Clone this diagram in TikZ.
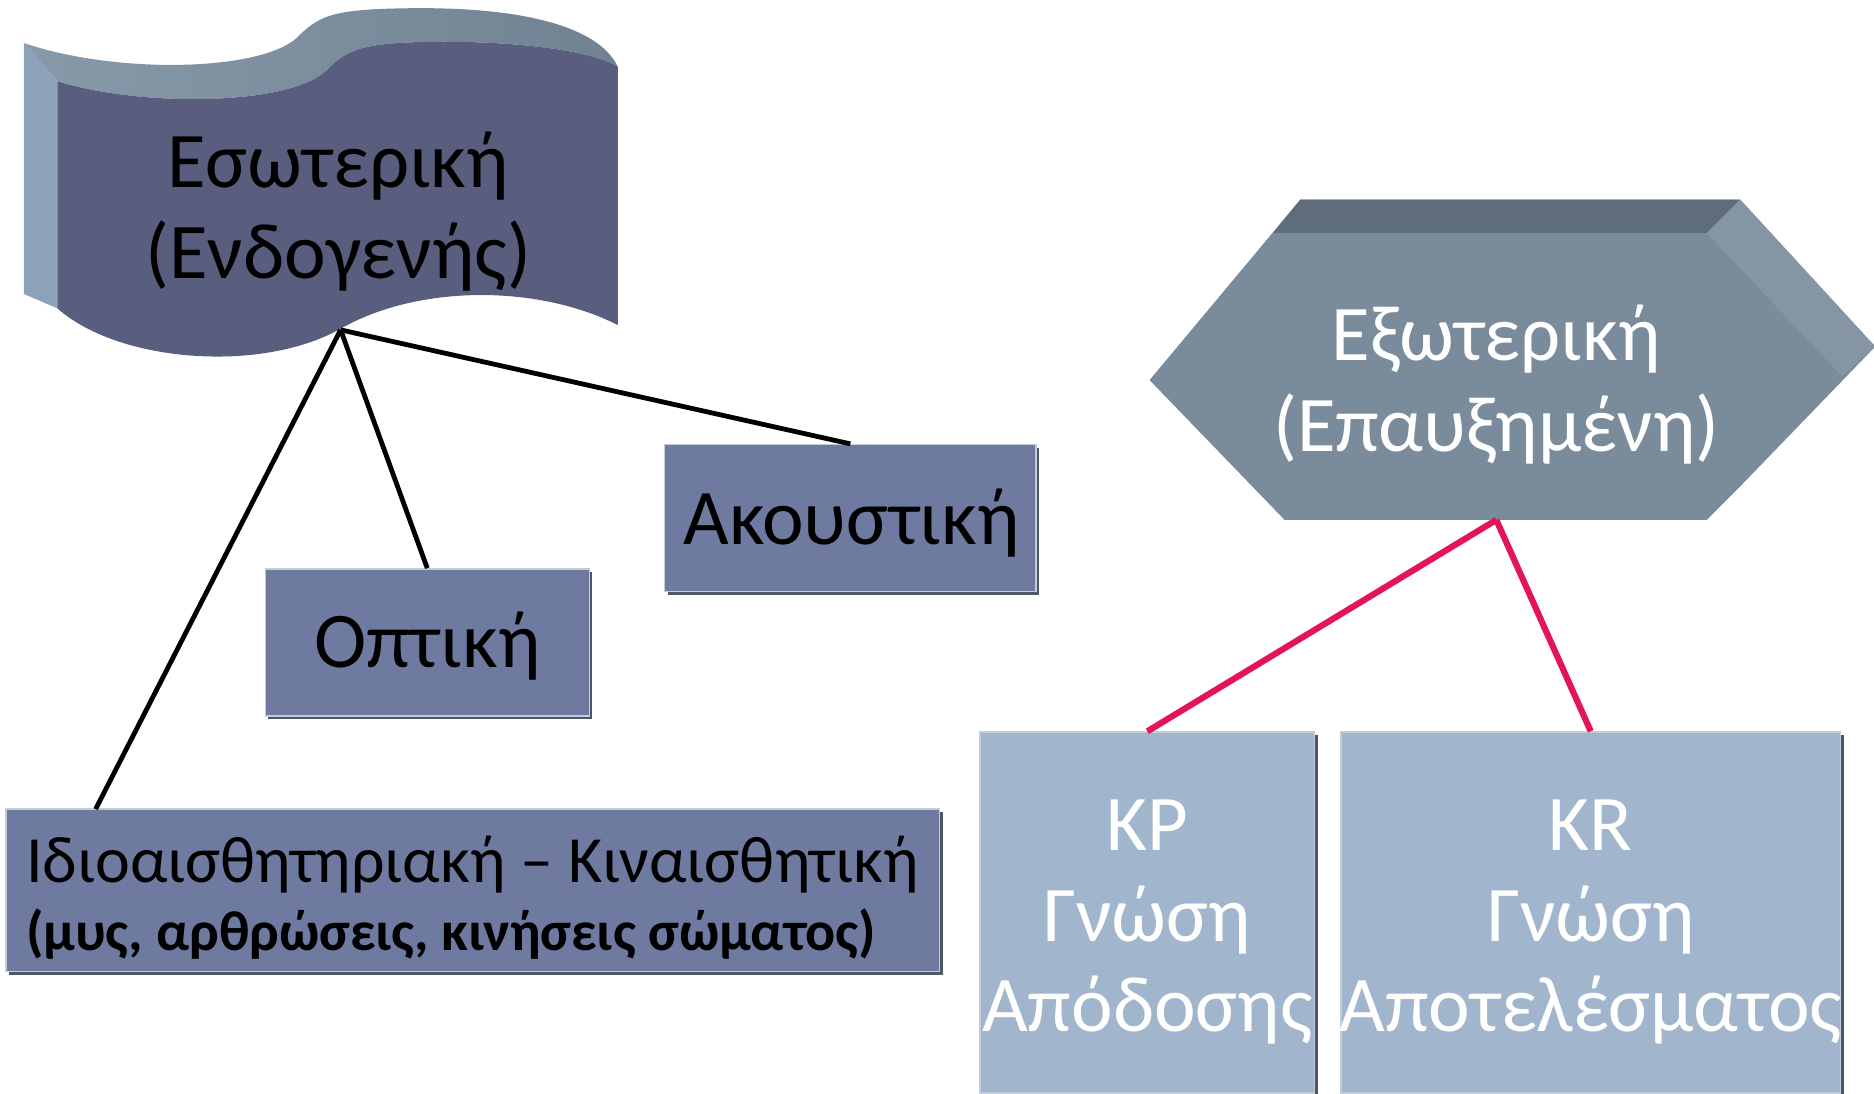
\documentclass[tikz,border=0pt]{standalone}
\usepackage{fontspec}
\setmainfont{Carlito}
\usetikzlibrary{calc,shadows}
\definecolor{waveface}{HTML}{595E7F}
\definecolor{wavetopL}{HTML}{8899A9}
\definecolor{wavetopR}{HTML}{718293}
\definecolor{waveside}{HTML}{8CA2B9}
\definecolor{boxblue}{HTML}{6F7AA1}
\definecolor{hexface}{HTML}{7A8C9C}
\definecolor{hextop}{HTML}{5F6D7B}
\definecolor{hexside}{HTML}{8595A4}
\definecolor{kbox}{HTML}{A1B6CC}
\definecolor{pinkline}{HTML}{E3135E}
\definecolor{shadowc}{HTML}{4F5668}
\definecolor{edgelight}{HTML}{C3CCD8}
\newcommand\bigtxt{\fontsize{33}{38}\selectfont}
\tikzset{
  flatbox/.style={draw=edgelight, line width=0.6pt, inner sep=0pt,
    drop shadow={shadow xshift=1.3pt, shadow yshift=-1.3pt, fill=shadowc, opacity=1}},
  bluebox/.style={flatbox, fill=boxblue},
  kboxstyle/.style={flatbox, fill=kbox},
  bigdark/.style={font=\bigtxt, text=black, align=center},
  biglight/.style={font=\bigtxt, text=white, align=center},
  blackline/.style={line width=2pt, black},
  pinkconn/.style={line width=2.6pt, pinkline}
}
\begin{document}
\begin{tikzpicture}[x=0.5pt,y=-0.5pt]
\useasboundingbox (0,0) rectangle (1568,915);
\clip (0,0) rectangle (1568,915);

% ---- wave shape (Εσωτερική)
\fill[waveside] (20,36) -- (48,68) -- (48,258) -- (20,246) -- cycle;
\shade[left color=wavetopL, right color=wavetopR]
  (20,36) .. controls (96,62) and (216,60) .. (248,32)
  .. controls (266,14) and (276,8) .. (336,7)
  .. controls (430,5) and (500,20) .. (517,56)
  .. controls (500,44) and (440,34) .. (360,35)
  .. controls (300,36) and (290,42) .. (272,60)
  .. controls (240,88) and (120,90) .. (48,68) -- cycle;
\fill[waveface] (48,68) .. controls (120,90) and (240,88) .. (272,60)
  .. controls (290,42) and (300,36) .. (360,35)
  .. controls (440,34) and (500,44) .. (517,56) -- (517,272)
  .. controls (450,238) and (350,238) .. (285,275)
  .. controls (220,312) and (100,304) .. (48,258) -- cycle;
\node[bigdark] (esw) at (283,177) {Εσωτερική\\(Ενδογενής)};
\coordinate (eswbot) at (285,276);

% ---- hexagon (Εξωτερική)
\fill[hexface] (1088,167) -- (1456,167) -- (1569,290) -- (1456,407) -- (1428,435) -- (1075,435) -- (962,318) -- cycle;
\fill[hextop] (1065,195) -- (1088,167) -- (1456,167) -- (1428,195) -- cycle;
\fill[hexside] (1428,195) -- (1456,167) -- (1569,290) -- (1541,315) -- cycle;
\fill[hexface] (962,318) -- (1065,195) -- (1428,195) -- (1541,315) -- (1428,435) -- (1075,435) -- cycle;
\node[biglight] (exo) at (1252,322) {Εξωτερική\\(Επαυξημένη)};
\coordinate (hexbot) at (1252,435);

% ---- boxes
\node[bluebox, minimum width=155.5pt, minimum height=61.5pt] (akou) at (711.5,433.5) {};
\node[bigdark] at ($(akou.center)+(1,4)$) {Ακουστική};
\node[bluebox, minimum width=135.5pt, minimum height=61.5pt] (opt) at (357.5,537.5) {};
\node[bigdark] at ($(opt.center)+(0,3)$) {Οπτική};
\node[bluebox, minimum width=390.5pt, minimum height=68pt] (idio) at (395.5,745) {};
\node[text=black, align=left, inner sep=0pt, anchor=west,
      font=\fontsize{27.6}{29}\selectfont] at ($(idio.west)+(17,6)$)
  {Ιδιοαισθητηριακή – Κιναισθητική\\[-0.5pt]{\bfseries\fontsize{23.5}{29}\selectfont (μυς, αρθρώσεις, κινήσεις σώματος)}};
\node[kboxstyle, minimum width=140pt, minimum height=151pt] (kp) at (960,763.5) {};
\node[biglight] at ($(kp.center)+(0,8)$) {KP\\Γνώση\\Απόδοσης};
\node[kboxstyle, minimum width=209pt, minimum height=151pt] (kr) at (1331,763.5) {};
\node[biglight] at ($(kr.center)+(0,8)$) {KR\\Γνώση\\Αποτελέσματος};

\coordinate (idiotop) at (80,677);

% ---- connectors
\draw[blackline] (eswbot) -- (idiotop);
\draw[blackline] (eswbot) -- (opt.north);
\draw[blackline] (eswbot) -- (akou.north);
\draw[pinkconn] (hexbot) -- (kp.north);
\draw[pinkconn] (hexbot) -- (kr.north);
\end{tikzpicture}
\end{document}
